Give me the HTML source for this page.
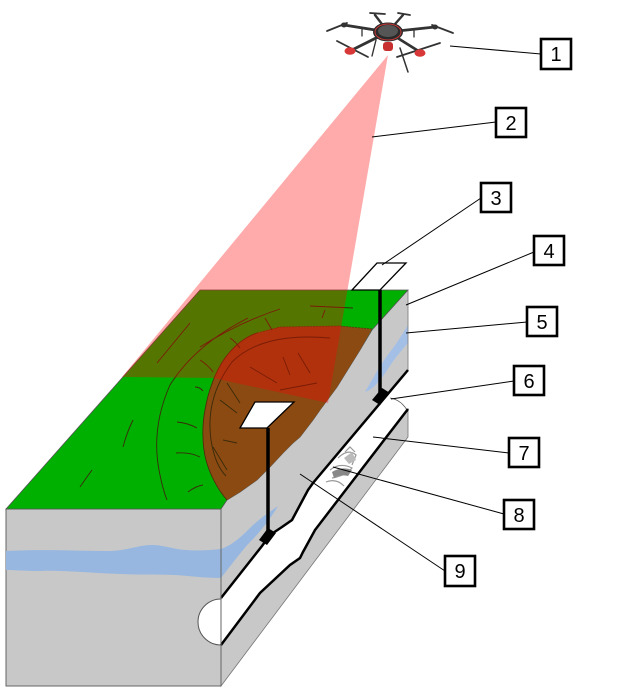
<!DOCTYPE html>
<html><head><meta charset="utf-8"><style>
html,body{margin:0;padding:0;background:#fff;}
svg{display:block;}
text{font-family:"Liberation Sans",sans-serif;font-size:20px;fill:#000;}
</style></head><body>
<svg width="621" height="689" viewBox="0 0 621 689" xmlns="http://www.w3.org/2000/svg">
<rect width="621" height="689" fill="#fff"/>

<!-- front face -->
<rect x="6" y="509" width="215" height="177" fill="#c8c8c8" stroke="#666" stroke-width="1"/>
<!-- stream on front face -->
<path d="M6,551 C40,549 80,551 110,551 C125,551 135,546 150,545 C165,545 172,549 185,550 C200,551 212,550 221,549 L221,578 C205,578 190,576 175,575 C155,574 140,575 120,574 C90,573 60,570 40,571 C25,571 14,570 6,570 Z" fill="#97b7e0"/>

<!-- right upper gray face -->
<path d="M221,509 L227,500 L240,492 L257,480 L270,467 L283,453 L293,443 L300,437 L313,420 L320,410 L337,387 L360,350 L372,330 L408,290 L408,370 L313,483 L308,490 L300,505 L292,520 L282,527 L270,535 L262,546 L221,598 Z" fill="#c8c8c8"/>
<!-- stream on right face -->
<path d="M221,549 C232,545 240,538 250,528 C260,518 270,512 278,506 C272,516 262,530 252,540 C244,548 235,560 221,578 Z" fill="#97b7e0"/>
<path d="M365,392 C372,380 380,365 390,352 C397,343 403,333 408,325 L408,343 C400,352 392,362 386,372 C379,382 372,390 365,392 Z" fill="#a4bfe6"/>

<!-- lower gray strip -->
<path d="M221,645 L260,593 L290,565 L300,558 L303,552 L315,530 L338,500 L408,409 L408,437 L221,686 Z" fill="#c8c8c8" stroke="#777" stroke-width="0.8"/>
<!-- trench white -->
<path d="M221,598 L262,546 L270,535 L282,527 L292,520 L300,505 L308,490 L313,483 L408,370 L408,409 L338,500 L315,530 L303,552 L300,558 L290,565 L260,593 L221,645 Z" fill="#fff"/>
<!-- front pipe opening -->
<path d="M221,599 A23,23 0 0 0 221,645" fill="#fff" stroke="#555" stroke-width="1"/>
<!-- back pipe curve -->
<path d="M390,398 Q402,400 408,412" fill="none" stroke="#555" stroke-width="0.8"/>
<!-- trench black lines -->
<path d="M221,598 L262,546 L270,535 L282,527 L292,520 L300,505 L308,490 L313,483 L408,370" fill="none" stroke="#000" stroke-width="2.5"/>
<path d="M221,645 L260,593 L290,565 L300,558 L303,552 L315,530 L338,500 L408,409" fill="none" stroke="#000" stroke-width="2.5"/>
<line x1="408" y1="290" x2="408" y2="370" stroke="#777" stroke-width="0.8"/>
<line x1="221" y1="509" x2="221" y2="686" stroke="#666" stroke-width="1"/>

<!-- rubble (8) -->
<g fill="none" stroke="#999" stroke-width="1.2">
<path d="M330,470 Q340,462 352,468 Q345,476 332,478"/>
<path d="M338,458 Q348,448 356,455 L352,465"/>
<path d="M326,482 Q336,478 344,486"/>
<path d="M345,452 L350,447 L355,452"/>
</g>
<path d="M332,472 Q342,466 352,470 L348,476 Q340,474 334,478 Z" fill="#888"/>
<path d="M344,458 L352,452 L356,460 L349,464 Z" fill="#bbb"/>

<!-- green top -->
<path d="M6,509 L200,290 L408,290 L372,330 L360,350 L337,387 L320,410 L313,420 L300,437 L293,443 L283,453 L270,467 L257,480 L240,492 L227,500 L221,509 Z" fill="#00b000" stroke="#555" stroke-width="0.8"/>
<!-- landslide brown -->
<path d="M257,333 L280,327 L340,326 L372,329 L360,350 L337,387 L320,410 L313,420 L300,437 L293,443 L283,453 L270,467 L257,480 L240,492 L227,500 C218,490 210,475 206,460 C202,445 202,425 205,410 C208,392 215,372 225,358 C234,346 245,337 257,333 Z" fill="#8a4a12"/>
<path d="M257,333 L280,327 L340,326 L372,329" fill="none" stroke="#5a3a10" stroke-width="0.8" stroke-dasharray="2,1"/>
<path d="M227,500 C218,490 210,475 206,460 C202,445 202,425 205,410 C208,392 215,372 225,358 C234,346 245,337 257,333" fill="none" stroke="#4a2a08" stroke-width="0.8"/>

<!-- cracks -->
<g fill="none" stroke="#3a2a0a" stroke-width="0.9">
<path d="M248,318 Q195,345 170,385 Q150,430 160,475 Q163,490 167,500"/>
<path d="M200,347 Q240,322 280,309"/>
<path d="M310,306 L353,308"/>
<path d="M157,363 L190,323"/>
<path d="M123,447 Q127,432 133,420"/>
<path d="M80,487 Q86,478 92,470"/>
<path d="M177,422 Q188,423 197,428"/>
<path d="M176,453 Q190,452 200,457"/>
<path d="M188,492 Q196,486 203,485"/>
<path d="M195,387 Q200,387 203,391"/>
<path d="M200,360 Q208,365 213,372"/>
<path d="M230,338 Q236,342 240,348"/>
<path d="M265,318 L272,330"/>
<path d="M325,310 L322,318"/>
<path d="M330,338 Q262,332 232,362 Q205,398 211,440 Q215,465 226,476"/>
<path d="M283,357 L290,375"/>
<path d="M298,353 L310,373"/>
<path d="M250,367 L277,383"/>
<path d="M280,390 L317,383"/>
<path d="M227,383 L240,403"/>
<path d="M220,400 L237,413"/>
<path d="M223,440 L237,443"/>
<path d="M213,447 L227,470"/>
</g>

<!-- laser cone -->
<path d="M388,55 L328,403 L213,378 L122,377 Z" fill="#ff0000" fill-opacity="0.33"/>

<!-- plate 3 + pole -->
<path d="M377,263 L406,263 L380,290 L352,290 Z" fill="#fff" stroke="#000" stroke-width="1.3"/>
<line x1="380" y1="290" x2="380" y2="394" stroke="#000" stroke-width="3.5"/>
<path d="M372,400 L382,388 L390,393 L380,405 Z" fill="#000"/>

<!-- plate in slide + pole -->
<path d="M255,402 L294,402 L267,428 L240,428 Z" fill="#fff" stroke="#000" stroke-width="1.3"/>
<line x1="268" y1="428" x2="268" y2="534" stroke="#000" stroke-width="3.5"/>
<path d="M259,540 L268,528 L276,533 L267,545 Z" fill="#000"/>

<!-- drone -->
<g stroke="#333" stroke-linecap="round" fill="none">
<line x1="388" y1="32" x2="344" y2="25" stroke-width="2.8"/>
<line x1="388" y1="32" x2="352" y2="50" stroke-width="2.8"/>
<line x1="388" y1="32" x2="375" y2="15" stroke-width="2.4"/>
<line x1="388" y1="32" x2="403" y2="15" stroke-width="2.4"/>
<line x1="388" y1="32" x2="420" y2="52" stroke-width="2.8"/>
<line x1="388" y1="32" x2="435" y2="27" stroke-width="2.8"/>
<line x1="327" y1="31" x2="347" y2="23" stroke-width="1.8"/>
<line x1="337" y1="41" x2="368" y2="57" stroke-width="1.8"/>
<line x1="397" y1="57" x2="440" y2="43" stroke-width="1.8"/>
<line x1="432" y1="25" x2="453" y2="33" stroke-width="1.8"/>
<line x1="370" y1="13" x2="385" y2="14" stroke-width="1.8"/>
<line x1="398" y1="13" x2="410" y2="15" stroke-width="1.8"/>
<line x1="376" y1="40" x2="372" y2="56" stroke-width="1.4"/>
<line x1="400" y1="48" x2="408" y2="72" stroke-width="1.5"/>
<line x1="362" y1="29" x2="362" y2="36" stroke-width="1.3"/>
<line x1="414" y1="30" x2="414" y2="37" stroke-width="1.3"/>
</g>
<ellipse cx="388" cy="32" rx="15" ry="9.5" fill="#2a2a2a"/>
<ellipse cx="388" cy="31" rx="10" ry="6" fill="#555"/>
<ellipse cx="388" cy="32" rx="13" ry="8" fill="none" stroke="#c83838" stroke-width="1"/>
<rect x="383" y="42" width="10" height="9" rx="3" fill="#c83030"/>
<ellipse cx="350" cy="51" rx="5.5" ry="3.8" fill="#d83838"/>
<ellipse cx="420" cy="53" rx="5.5" ry="3.8" fill="#d83838"/>
<ellipse cx="344" cy="25" rx="3" ry="2.5" fill="#333"/>
<ellipse cx="435" cy="27" rx="3" ry="2.5" fill="#333"/>

<!-- leader lines -->
<g stroke="#000" stroke-width="1">
<line x1="450" y1="46" x2="541" y2="54"/>
<line x1="372" y1="137" x2="496" y2="122"/>
<line x1="382" y1="265" x2="481" y2="198"/>
<line x1="406" y1="305" x2="534" y2="252"/>
<line x1="406" y1="333" x2="527" y2="322"/>
<line x1="391" y1="399" x2="514" y2="381"/>
<line x1="373" y1="437" x2="509" y2="453"/>
<line x1="333" y1="467" x2="504" y2="514"/>
<line x1="300" y1="474" x2="445" y2="571"/>
</g>

<!-- label boxes -->
<g fill="#fff" stroke="#000" stroke-width="2.6">
<rect x="541" y="39" width="30" height="30"/>
<rect x="496" y="108" width="30" height="29"/>
<rect x="481" y="183" width="30" height="29"/>
<rect x="534" y="236" width="30" height="29"/>
<rect x="527" y="307" width="30" height="29"/>
<rect x="514" y="366" width="30" height="29"/>
<rect x="509" y="438" width="30" height="29"/>
<rect x="504" y="500" width="30" height="29"/>
<rect x="445" y="556" width="30" height="30"/>
</g>
<g text-anchor="middle">
<text x="556" y="61">1</text>
<text x="511" y="130">2</text>
<text x="496" y="205">3</text>
<text x="549" y="258">4</text>
<text x="542" y="329">5</text>
<text x="529" y="388">6</text>
<text x="524" y="460">7</text>
<text x="519" y="522">8</text>
<text x="460" y="578">9</text>
</g>
</svg>
</body></html>
